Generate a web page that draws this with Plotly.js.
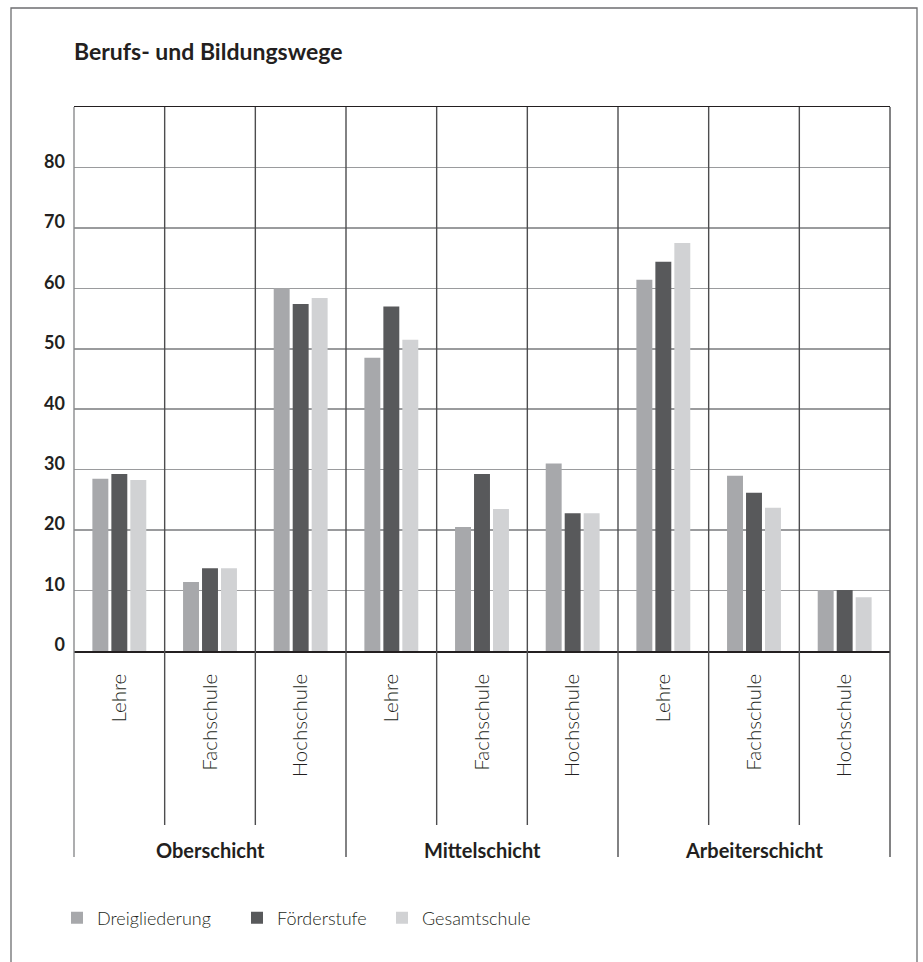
<!DOCTYPE html>
<html>
<head>
<meta charset="utf-8">
<script src="https://cdn.plot.ly/plotly-3.0.1.min.js"></script>
<style>html,body{margin:0;padding:0;background:#fff;}#chart{width:923px;height:962px;}</style>
</head>
<body>
<div id="chart"></div>
<script>
// ---- data ----
var groups = ["Oberschicht", "Mittelschicht", "Arbeiterschicht"];
var subcategories = ["Lehre", "Fachschule", "Hochschule", "Lehre", "Fachschule", "Hochschule", "Lehre", "Fachschule", "Hochschule"];
var seriesNames = ["Dreigliederung", "Förderstufe", "Gesamtschule"];
var dreigliederung = [28.5, 11.4, 60.0, 48.5, 20.5, 31.0, 61.4, 29.0, 10.1];
var foerderstufe   = [29.3, 13.7, 57.4, 57.0, 29.3, 22.8, 64.4, 26.2, 10.1];
var gesamtschule   = [28.3, 13.7, 58.4, 51.5, 23.5, 22.8, 67.5, 23.7, 8.9];
var yTickValues = [0, 10, 20, 30, 40, 50, 60, 70, 80];
var yTickLabels = ["0", "10", "20", "30", "40", "50", "60", "70", "80"];

// ---- styling ----
var colors = ["#a7a8ab", "#58595b", "#d1d2d4"];
var textColor = "#231f20";
var fam = "Lato, 'Open Sans', sans-serif";
var legendFont = {family: fam, size: 18, color: textColor, weight: 300};
var catFont = {family: fam, size: 20.5, color: textColor, weight: 300};
var groupFont = {family: fam, size: 20, color: textColor, weight: 700};

var xIdx = subcategories.map(function (_, i) { return i; });
var seriesValues = [dreigliederung, foerderstufe, gesamtschule];
var legendIds = ["legend", "legend2", "legend3"];

var traces = seriesValues.map(function (vals, k) {
  return {
    type: "bar",
    name: seriesNames[k],
    x: xIdx,
    y: vals,
    marker: {color: colors[k], line: {width: 0}},
    legend: legendIds[k],
    hoverinfo: "skip"
  };
});

// plot area in pixels: left 74, right 890, top 107, bottom 651
var W = 923, H = 962, L = 74, R = 890, T = 107, B = 651;
function px2x(p) { return (p - L) / (R - L); }
function px2y(p) { return (B - p) / (B - T); }

var shapes = [];
// outer frame
shapes.push({type: "rect", xref: "paper", yref: "paper",
  x0: px2x(11), x1: px2x(917), y0: px2y(990), y1: px2y(8),
  line: {color: "#6d6e70", width: 1.3}, fillcolor: "rgba(0,0,0,0)", layer: "below"});
// vertical separators
var n = subcategories.length;
for (var i = 0; i <= n; i++) {
  var isGroup = (i % 3 === 0);
  shapes.push({type: "line", xref: "x domain", yref: "paper",
    x0: i / n, x1: i / n, y0: 1, y1: px2y(isGroup ? 857 : 825),
    line: {color: i === 0 ? "#8a8b8d" : "#4d4d4f", width: 1.4}, layer: "above"});
}

var annotations = groups.map(function (g, gi) {
  return {text: "<b>" + g + "</b>", xref: "x", yref: "paper", x: gi * 3 + 1, y: px2y(850),
    xanchor: "center", yanchor: "middle", showarrow: false, font: groupFont};
});

function legendAt(xpx) {
  return {orientation: "h", x: px2x(xpx), y: px2y(918), xanchor: "left", yanchor: "middle",
    xref: "paper", yref: "paper", bgcolor: "rgba(0,0,0,0)", borderwidth: 0,
    font: legendFont, itemclick: false, itemdoubleclick: false};
}

var layout = {
  width: W, height: H,
  margin: {l: L, r: W - R, t: T, b: H - B, pad: 0},
  paper_bgcolor: "#ffffff", plot_bgcolor: "#ffffff",
  title: {text: "<b>Berufs- und Bildungswege</b>", xref: "paper", x: 0, xanchor: "left",
    yref: "container", y: 1 - 52 / H, yanchor: "middle",
    font: {family: fam, size: 23, color: textColor, weight: 700}},
  barmode: "group", bargap: 0.372, bargroupgap: 0.16,
  showlegend: true,
  legend: legendAt(57),
  legend2: legendAt(237),
  legend3: legendAt(382),
  xaxis: {type: "linear", range: [-0.5, n - 0.5], tickvals: xIdx, ticktext: subcategories,
    tickangle: -90, tickfont: catFont, ticks: "", ticklabelstandoff: 13,
    showgrid: false, zeroline: false, showline: true, mirror: true,
    linecolor: "#231f20", linewidth: 1.5, fixedrange: true},
  yaxis: {range: [0, 90], tickvals: yTickValues, ticktext: yTickLabels,
    tickfont: {family: fam, size: 18, color: textColor, weight: 700},
    ticks: "", ticklabelstandoff: 8, ticklabelshift: -6,
    showgrid: true, gridcolor: "#9a9b9d", gridwidth: 1.6,
    zeroline: false, showline: false, fixedrange: true},
  shapes: shapes,
  annotations: annotations
};

Plotly.newPlot("chart", traces, layout, {displayModeBar: false, staticPlot: true});
</script>
</body>
</html>
